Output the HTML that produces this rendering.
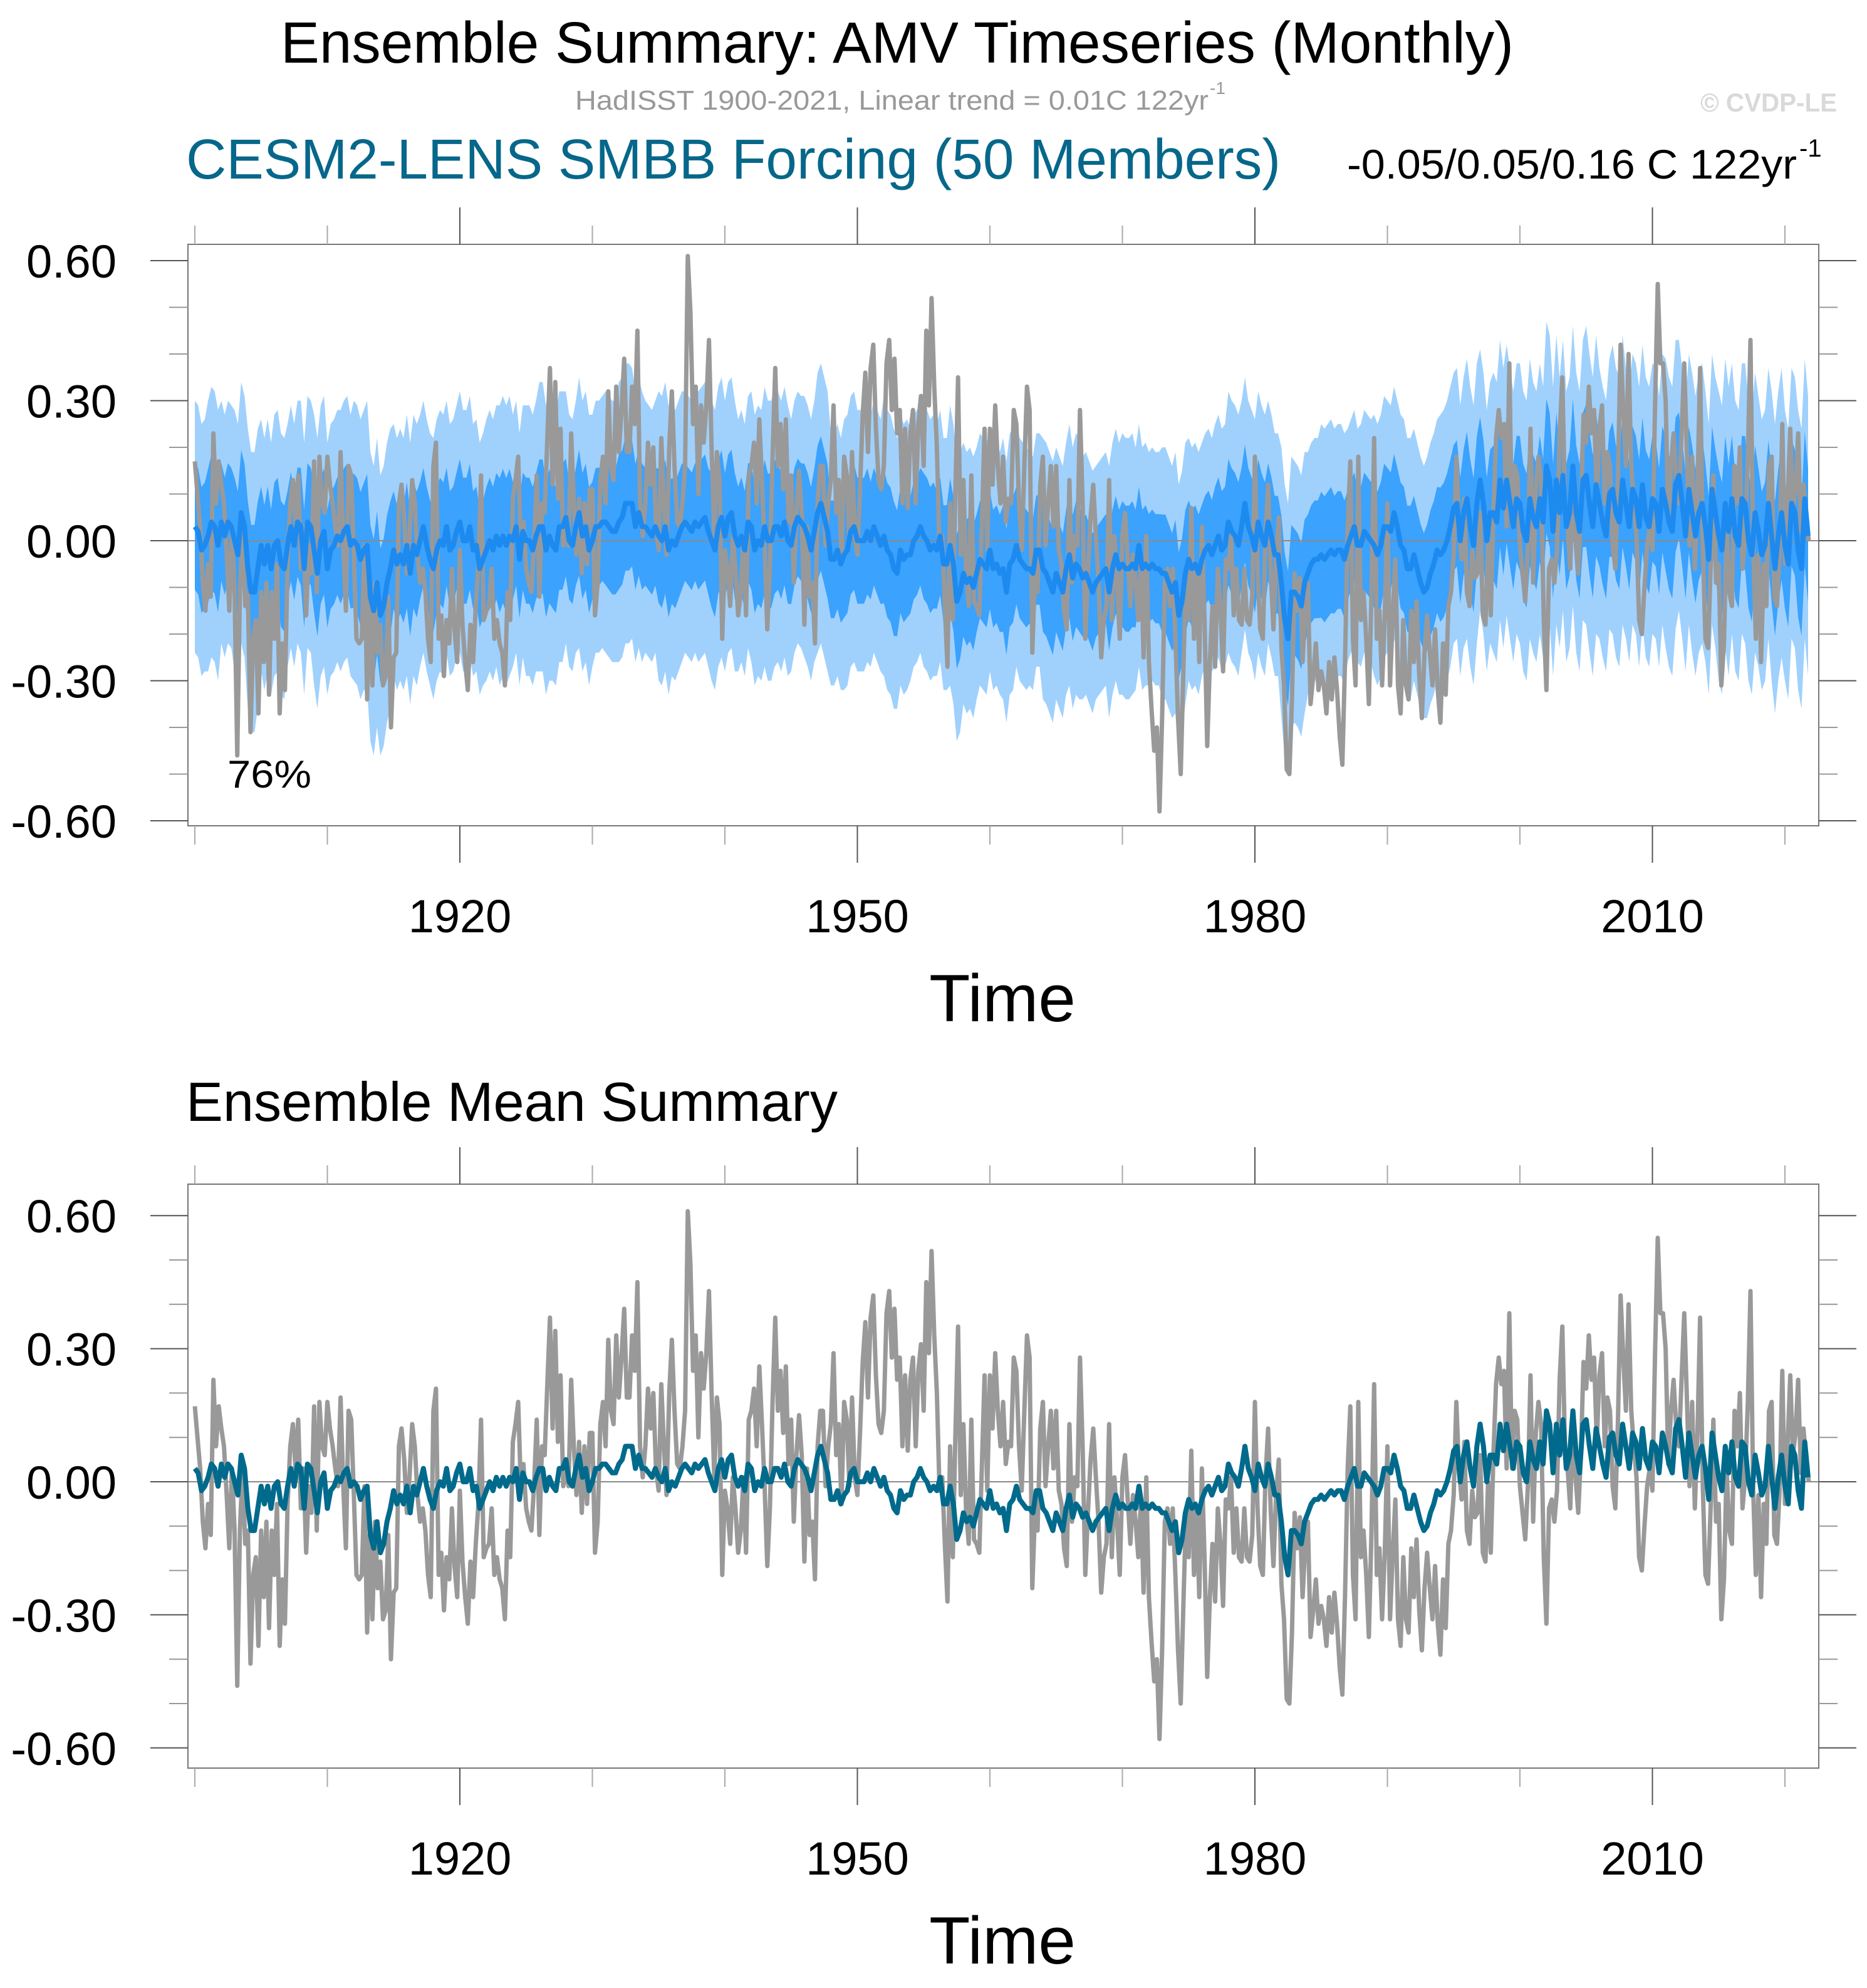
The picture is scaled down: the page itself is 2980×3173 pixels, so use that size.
<!DOCTYPE html>
<html><head><meta charset="utf-8"><style>
html,body{margin:0;padding:0;background:#fff;}
svg{display:block;font-family:"Liberation Sans",sans-serif;}
</style></head>
<body>
<svg id="chart" width="2980" height="3173" viewBox="0 0 2980 3173" xmlns="http://www.w3.org/2000/svg">
<rect width="2980" height="3173" fill="#fff"/>
<text x="448" y="100" font-size="93" textLength="1968" lengthAdjust="spacingAndGlyphs">Ensemble Summary: AMV Timeseries (Monthly)</text>
<text x="918" y="175" font-size="44" fill="#999" textLength="1011" lengthAdjust="spacingAndGlyphs">HadISST 1900-2021, Linear trend = 0.01C 122yr</text>
<text x="1931" y="150" font-size="28" fill="#999">-1</text>
<text x="2714" y="178" font-size="42" font-weight="bold" fill="#d9d9d9" textLength="218" lengthAdjust="spacingAndGlyphs">© CVDP-LE</text>
<text x="297" y="285" font-size="90" fill="#06678a" textLength="1747" lengthAdjust="spacingAndGlyphs">CESM2-LENS SMBB Forcing (50 Members)</text>
<text x="2150" y="285" font-size="66" textLength="718" lengthAdjust="spacingAndGlyphs">-0.05/0.05/0.16 C 122yr</text>
<text x="2872" y="250" font-size="40">-1</text>
<text x="297" y="1789" font-size="88" textLength="1040" lengthAdjust="spacingAndGlyphs">Ensemble Mean Summary</text>
<g id="top"></g>
<g id="bot"></g>
</svg>
<script>
// Observed (HadISST) AMV, 5 samples per year, 1900-2021
const obsValues = [
0.17,0.10,0.03,-0.09,-0.15, -0.05,-0.12,0.23,0.08,0.17, 0.12,0.08,-0.03,-0.15,0.03, -0.11,-0.46,-0.11,0.03,-0.14, -0.11,-0.41,-0.21,-0.17,-0.37,
-0.11,-0.26,-0.09,-0.33,-0.11, -0.21,-0.05,-0.37,-0.22,-0.32, -0.05,0.08,0.13,0.03,0.14, -0.06,0.03,-0.16,-0.01,-0.07, 0.17,-0.11,0.18,0.08,0.06,
0.18,0.12,0.08,0.03,-0.01, 0.19,-0.01,-0.15,0.16,0.14, -0.03,-0.21,-0.22,-0.21,-0.01, -0.34,-0.12,-0.31,-0.09,-0.24, -0.18,-0.31,-0.29,-0.12,-0.40,
-0.25,-0.24,0.08,0.12,0.05, -0.07,0.01,0.13,0.08,-0.03, -0.09,-0.06,-0.11,-0.21,-0.26, 0.16,0.21,-0.21,-0.16,-0.29, -0.17,-0.22,-0.06,-0.19,-0.26,
-0.02,-0.18,-0.26,-0.32,-0.18, -0.26,-0.14,-0.05,0.14,-0.17, -0.15,-0.14,-0.06,-0.21,-0.17, -0.22,-0.24,-0.31,-0.11,-0.17, 0.09,0.13,0.18,-0.01,0.04,
-0.06,-0.09,-0.11,-0.01,0.14, -0.12,0.08,0.06,0.22,0.37, 0.12,0.34,0.09,0.24,-0.01, 0.03,-0.01,0.23,0.08,-0.03, 0.09,-0.07,0.08,-0.05,0.11,
0.11,-0.16,-0.09,0.13,0.18, 0.08,0.32,0.16,0.13,0.33, 0.19,0.28,0.39,0.19,0.19, 0.33,0.25,0.45,0.08,0.01, 0.08,0.21,0.12,0.20,0.03,
-0.02,0.22,0.08,-0.03,0.20, 0.32,0.16,0.04,0.03,0.08, 0.16,0.61,0.49,0.25,0.33, 0.10,0.29,0.21,0.29,0.43, 0.20,0.01,0.19,0.13,-0.21,
-0.02,-0.06,-0.14,0.01,-0.06, -0.16,-0.11,0.01,-0.16,0.14, 0.16,0.21,0.08,0.26,0.13, -0.01,-0.19,-0.06,0.18,0.37, 0.16,0.25,0.11,0.26,0.04,
0.14,-0.09,0.06,0.15,0.06, -0.18,0.03,-0.12,-0.09,-0.22, 0.08,0.16,0.16,-0.01,0.08, 0.13,0.29,0.06,0.13,-0.05, 0.18,0.14,-0.01,0.19,0.01,
-0.03,0.11,0.27,0.36,0.19, 0.37,0.42,0.24,0.13,0.11, 0.16,0.38,0.43,0.28,0.39, 0.23,0.28,0.08,0.24,0.07, 0.23,0.28,0.08,0.25,0.31,
0.16,0.45,0.29,0.52,0.33, 0.20,-0.02,0.01,-0.14,-0.27, 0.08,-0.17,0.11,0.35,-0.03, 0.13,-0.06,-0.14,0.14,-0.13, -0.14,-0.16,0.04,0.24,-0.02,
0.24,0.12,0.29,0.16,0.08, 0.18,0.04,0.09,0.08,0.28, 0.25,0.08,-0.02,0.16,0.33, 0.28,-0.24,-0.07,-0.11,0.12, 0.18,-0.01,0.08,0.16,0.03,
0.16,-0.02,-0.05,-0.15,-0.19, 0.13,-0.09,0.01,-0.01,0.28, 0.08,-0.21,-0.07,0.05,0.12, 0.01,-0.09,-0.25,-0.17,-0.14, 0.13,-0.17,0.01,-0.09,-0.21,
0.01,0.06,-0.04,-0.14,-0.03, -0.09,-0.17,-0.04,-0.25,0.01, -0.26,-0.36,-0.45,-0.40,-0.58, -0.38,-0.09,-0.06,-0.14,-0.06, -0.21,-0.38,-0.50,-0.28,-0.07,
-0.17,0.07,-0.21,-0.06,-0.26, 0.03,-0.17,-0.44,-0.26,-0.14, -0.27,-0.06,-0.14,-0.28,-0.04, -0.06,0.01,-0.16,-0.06,-0.17, -0.18,-0.06,-0.17,-0.18,-0.12,
0.18,-0.06,-0.19,-0.21,0.01, 0.12,-0.07,-0.19,-0.03,0.05, -0.23,-0.31,-0.49,-0.50,-0.34, -0.07,-0.15,-0.08,-0.26,-0.14, -0.09,-0.35,-0.29,-0.22,-0.32,
-0.28,-0.31,-0.37,-0.26,-0.34, -0.25,-0.32,-0.42,-0.48,-0.26, 0.03,0.17,-0.21,-0.31,0.18, -0.17,-0.11,-0.21,-0.35,-0.11, 0.22,-0.21,-0.15,-0.31,-0.16,
0.08,-0.31,-0.16,-0.04,-0.31, -0.37,-0.17,-0.31,-0.34,-0.15, -0.26,-0.13,-0.29,-0.38,-0.24, -0.16,-0.24,-0.31,-0.19,-0.32, -0.39,-0.22,-0.33,-0.14,-0.11,
-0.03,0.18,0.03,-0.04,0.09, -0.11,-0.14,-0.02,-0.08,-0.07, 0.06,-0.16,-0.18,0.00,-0.16, 0.06,0.22,0.28,0.22,0.25, 0.03,0.38,0.03,0.16,0.14,
-0.01,-0.07,-0.13,-0.01,0.24, -0.09,0.11,0.18,0.13,-0.17, -0.32,-0.06,-0.04,-0.09,-0.02, 0.23,0.35,0.08,0.03,-0.06, 0.16,0.01,-0.07,0.06,0.27,
0.21,0.33,0.23,0.28,0.09, 0.24,0.29,0.08,0.19,0.16, -0.01,-0.06,0.14,0.42,0.28, 0.16,0.40,0.16,0.08,0.01, -0.17,-0.20,-0.10,-0.01,0.03,
-0.02,0.29,0.55,0.38,0.38, 0.30,0.04,0.16,0.23,0.12, 0.08,0.23,0.38,0.19,-0.01, 0.18,-0.06,0.11,0.37,-0.01, -0.21,-0.23,-0.05,0.14,-0.09,
-0.05,-0.31,-0.22,0.03,-0.11, -0.14,0.16,0.08,0.20,-0.06, 0.01,0.18,0.43,-0.01,-0.21, -0.03,-0.26,-0.05,-0.14,0.16, 0.18,-0.12,-0.14,-0.02,0.25,
-0.05,0.08,0.24,0.06,0.11, 0.23,0.02,0.12,0.05,0.00
];
// Ensemble mean, 4 samples per year, 1900-2021
const meanValues = [
0.03,0.02,-0.02,-0.01, 0.01,0.04,0.03,-0.01, 0.04,0.01,0.04,0.03, 0.00,-0.03,0.06,0.03, -0.06,-0.11,-0.11,-0.06,
-0.01,-0.05,-0.01,-0.06, -0.01,0.00,-0.05,-0.06, -0.01,0.03,-0.01,0.04, 0.03,-0.06,0.04,0.03, -0.02,-0.07,0.00,0.02,
-0.06,-0.02,-0.01,0.01, 0.00,0.02,0.03,-0.01, 0.00,-0.01,-0.04,-0.02, -0.01,-0.12,-0.15,-0.09, -0.16,-0.14,-0.09,-0.06,
-0.02,-0.05,-0.03,-0.05, -0.01,-0.07,-0.01,-0.03, 0.00,0.03,-0.01,-0.04, -0.06,-0.02,0.00,-0.01, 0.03,-0.02,-0.01,0.02,
0.04,0.00,0.00,0.03, -0.02,-0.01,-0.06,-0.04, -0.02,0.00,-0.02,0.01, -0.01,0.01,-0.01,0.01, 0.00,0.03,-0.04,0.02,
0.00,0.00,-0.02,0.01, 0.03,0.03,-0.02,0.01, -0.01,-0.02,0.03,0.03, 0.05,0.00,-0.01,0.03, 0.06,0.01,0.03,-0.02,
0.00,0.03,0.03,0.04, 0.04,0.03,0.02,0.02, 0.04,0.05,0.08,0.08, 0.08,0.03,0.06,0.03, 0.03,0.02,0.01,0.03,
0.01,0.00,0.03,-0.02, 0.00,-0.01,0.01,0.03, 0.04,0.03,0.02,0.04, 0.03,0.04,0.05,0.02, 0.00,-0.02,0.03,0.05,
0.01,0.05,0.06,0.01, -0.01,0.01,-0.02,0.04, 0.03,-0.02,0.00,-0.01, 0.03,0.00,0.00,0.03, 0.03,0.01,0.04,0.00,
-0.01,0.03,0.05,0.04, 0.03,0.01,-0.02,0.02, 0.06,0.08,0.05,0.02, -0.04,-0.04,-0.02,-0.05, -0.03,-0.02,0.02,0.03,
0.00,0.00,0.00,0.02, 0.00,0.03,0.01,-0.01, 0.01,-0.02,-0.03,-0.06, -0.07,-0.02,-0.04,-0.03, -0.03,0.00,0.01,0.03,
0.01,0.00,-0.02,-0.01, -0.02,0.01,-0.05,-0.05, -0.01,-0.05,-0.13,-0.11, -0.07,-0.09,-0.08,-0.10, -0.07,-0.04,-0.05,-0.06,
-0.02,-0.06,-0.05,-0.07, -0.06,-0.11,-0.05,-0.04, -0.01,-0.04,-0.05,-0.06, -0.06,-0.07,-0.02,-0.02, -0.06,-0.07,-0.09,-0.11,
-0.07,-0.09,-0.11,-0.06, -0.03,-0.08,-0.05,-0.06, -0.08,-0.07,-0.09,-0.11, -0.09,-0.08,-0.07,-0.06, -0.11,-0.06,-0.03,-0.06,
-0.05,-0.06,-0.06,-0.05, -0.06,-0.01,-0.06,-0.05, -0.06,-0.05,-0.06,-0.06, -0.07,-0.07,-0.09,-0.11, -0.09,-0.16,-0.13,-0.07,
-0.04,-0.06,-0.05,-0.07, -0.04,-0.02,-0.01,-0.03, -0.01,0.01,-0.02,-0.01, 0.04,0.02,0.01,-0.01, 0.03,0.08,0.03,0.01,
-0.02,0.04,0.01,-0.01, 0.04,0.01,-0.03,-0.03, -0.09,-0.17,-0.21,-0.11, -0.11,-0.12,-0.14,-0.09, -0.07,-0.05,-0.04,-0.04,
-0.03,-0.04,-0.03,-0.02, -0.03,-0.02,-0.02,-0.04, -0.01,0.01,0.03,-0.01, -0.01,0.02,0.01,0.00, -0.01,-0.03,-0.01,0.03,
0.03,0.02,0.06,0.03, -0.01,-0.02,-0.06,-0.06, -0.03,-0.06,-0.09,-0.11, -0.10,-0.07,-0.05,-0.02, -0.03,-0.02,0.00,0.03,
0.07,0.08,0.00,0.06, 0.09,0.03,-0.01,0.08, 0.13,0.08,0.00,0.06, 0.06,0.04,0.13,0.07, 0.13,0.08,0.03,0.09,
0.08,0.02,0.00,0.09, 0.05,0.03,0.09,0.04, 0.16,0.13,0.02,0.13, 0.06,0.14,0.03,0.06, 0.16,0.06,0.02,0.13,
0.14,0.08,0.03,0.12, 0.08,0.04,0.01,0.10, 0.11,0.06,0.04,0.13, 0.08,0.03,0.11,0.09, 0.03,0.12,0.05,0.03,
0.09,0.08,0.02,0.11, 0.08,0.04,0.02,0.12, 0.14,0.08,0.01,0.11, 0.06,0.01,0.06,0.08, 0.03,-0.04,0.11,0.06,
0.01,-0.02,0.08,0.02, 0.09,0.01,-0.01,0.09, 0.08,0.00,-0.03,0.06, 0.02,-0.03,-0.01,0.08, 0.01,-0.06,0.01,0.06,
-0.01,-0.05,0.08,0.06, -0.02,-0.06,0.09,0.01
];
// Per-year half-widths of the ensemble spread bands
const innerSpread = [
0.15,0.16,0.14,0.15,0.16,0.14,0.15,0.13,0.14,0.15,
0.14,0.15,0.16,0.17,0.16,0.14,0.15,0.14,0.15,0.14,
0.15,0.14,0.15,0.16,0.14,0.15,0.16,0.15,0.14,0.15,
0.14,0.15,0.16,0.15,0.14,0.16,0.15,0.14,0.15,0.16,
0.15,0.14,0.15,0.16,0.15,0.14,0.15,0.16,0.14,0.15,
0.15,0.14,0.16,0.15,0.14,0.15,0.14,0.16,0.15,0.14,
0.14,0.15,0.14,0.13,0.15,0.14,0.15,0.14,0.13,0.14,
0.15,0.14,0.13,0.14,0.15,0.14,0.13,0.14,0.15,0.14,
0.15,0.14,0.16,0.15,0.14,0.15,0.14,0.13,0.14,0.15,
0.14,0.15,0.14,0.15,0.16,0.15,0.16,0.15,0.16,0.15,
0.16,0.15,0.16,0.15,0.16,0.17,0.15,0.16,0.15,0.16,
0.15,0.16,0.15,0.16,0.15,0.16,0.15,0.16,0.15,0.16,
0.15,0.16
];
const outerSpread = [
0.27,0.29,0.26,0.28,0.30,0.27,0.28,0.26,0.27,0.29,
0.27,0.28,0.30,0.31,0.30,0.27,0.28,0.27,0.28,0.27,
0.28,0.27,0.28,0.30,0.27,0.29,0.31,0.29,0.27,0.29,
0.27,0.28,0.30,0.29,0.27,0.31,0.29,0.28,0.29,0.30,
0.29,0.27,0.29,0.30,0.29,0.27,0.28,0.30,0.27,0.29,
0.28,0.27,0.30,0.29,0.27,0.28,0.27,0.30,0.28,0.27,
0.26,0.28,0.26,0.25,0.28,0.27,0.28,0.26,0.25,0.27,
0.28,0.26,0.25,0.27,0.28,0.26,0.25,0.26,0.28,0.27,
0.28,0.26,0.29,0.28,0.26,0.28,0.27,0.25,0.26,0.28,
0.27,0.28,0.27,0.28,0.30,0.29,0.30,0.28,0.30,0.29,
0.30,0.29,0.31,0.29,0.30,0.32,0.29,0.31,0.29,0.30,
0.29,0.31,0.29,0.30,0.29,0.31,0.29,0.30,0.29,0.31,
0.29,0.30
];
const yTickValues = [-0.6,-0.3,0,0.3,0.6];
const yTickLabels = ["-0.60","-0.30","0.00","0.30","0.60"];
const yMinorValues = [-0.5,-0.4,-0.2,-0.1,0.1,0.2,0.4,0.5];
const xTickYears = [1900,1910,1920,1930,1940,1950,1960,1970,1980,1990,2000,2010,2020];
const xMajorYears = [1920,1950,1980,2010];
const startYear = 1900;
const obsPerYear = 5;
const meanPerYear = 4;

const NS = "http://www.w3.org/2000/svg";
const X0 = 311, XS = 21.15, FL = 300, FR = 2903;
function xOf(t){ return X0 + (t - startYear) * XS; }
function mk(tag, attrs, parent){
  const e = document.createElementNS(NS, tag);
  for (const k in attrs) e.setAttribute(k, attrs[k]);
  parent.appendChild(e); return e;
}
function linePath(vals, perYear, yOf){
  let d = "";
  vals.forEach((v,i)=>{ d += (i?"L":"M") + xOf(startYear + i/perYear).toFixed(1) + "," + yOf(v).toFixed(1); });
  return d;
}
function bandPath(spread, yOf){
  const up = [], lo = [];
  meanValues.forEach((m,i)=>{
    const t = startYear + i/meanPerYear;
    const s = spread[Math.min(spread.length-1, Math.floor(i/meanPerYear))];
    up.push([xOf(t), yOf(m + s)]);
    lo.push([xOf(t), yOf(m - s)]);
  });
  let d = "M" + up.map(p=>p[0].toFixed(1)+","+p[1].toFixed(1)).join("L");
  d += "L" + lo.reverse().map(p=>p[0].toFixed(1)+","+p[1].toFixed(1)).join("L") + "Z";
  return d;
}

function panel(g, top, bot, y0, scale, isTop){
  const yOf = v => y0 - v * scale;
  const clipId = isTop ? "clipTop" : "clipBot";
  const defs = mk("defs", {}, g);
  const cp = mk("clipPath", {id: clipId}, defs);
  mk("rect", {x: FL, y: top, width: FR-FL, height: bot-top}, cp);
  const plot = mk("g", {"clip-path": "url(#"+clipId+")"}, g);
  if (isTop){
    const ob = mk("path", {d: bandPath(outerSpread, yOf), fill: "#a0d1fd"}, plot);
    
    
    const ib = mk("path", {d: bandPath(innerSpread.map(v=>v*0.9), yOf), fill: "#3ba2fd"}, plot);
    
    
  }
  const zl = mk("line", {x1: FL, x2: FR, y1: yOf(0), y2: yOf(0), stroke: "#8a8a8a", "stroke-width": 2}, plot);
  
  
  const ol = mk("path", {d: linePath(obsValues, obsPerYear, yOf), fill: "none", stroke: "#999", "stroke-width": 7, "stroke-linejoin": "round"}, plot);
  
  
  const ml = mk("path", {d: linePath(meanValues, meanPerYear, yOf), fill: "none", stroke: isTop ? "#1d8af0" : "#006a8c", "stroke-width": 8, "stroke-linejoin": "round"}, plot);
  
  
  const fr = mk("rect", {x: FL, y: top, width: FR-FL, height: bot-top, fill: "none", stroke: "#777", "stroke-width": 2}, g);
  
  
  yTickValues.forEach((v,i)=>{
    const y = yOf(v);
    const a = mk("line", {x1: 240, x2: FL, y1: y, y2: y, stroke: "#555", "stroke-width": 2}, g);
    
    
    const b = mk("line", {x1: FR, x2: 2963, y1: y, y2: y, stroke: "#555", "stroke-width": 2}, g);
    
    
    const t = mk("text", {x: 186, y: y + 27, "font-size": 74, "text-anchor": "end"}, g);
    t.textContent = yTickLabels[i];
    
    
  });
  yMinorValues.forEach(v=>{
    const y = yOf(v);
    const a = mk("line", {x1: 270, x2: FL, y1: y, y2: y, stroke: "#999", "stroke-width": 2}, g);
    
    
    const b = mk("line", {x1: FR, x2: 2933, y1: y, y2: y, stroke: "#999", "stroke-width": 2}, g);
    
    
  });
  xTickYears.forEach(yr=>{
    const x = xOf(yr);
    const major = xMajorYears.includes(yr);
    const len = major ? 59 : 30;
    const col = major ? "#555" : "#aaa";
    const a = mk("line", {x1: x, x2: x, y1: top - len, y2: top, stroke: col, "stroke-width": 2}, g);
    
    
    const b = mk("line", {x1: x, x2: x, y1: bot, y2: bot + len, stroke: col, "stroke-width": 2}, g);
    
    
    if (major){
      const t = mk("text", {x: x, y: bot + 170, "font-size": 74, "text-anchor": "middle"}, g);
      t.textContent = String(yr);
      
      
    }
  });
  const xt = mk("text", {x: 1600, y: bot + 312, "font-size": 107, "text-anchor": "middle"}, g);
  xt.textContent = "Time";
  
  
}

panel(document.getElementById("top"), 390, 1318, 863, 745, true);
panel(document.getElementById("bot"), 1890, 2822, 2365, 708, false);

const pct = mk("text", {x: 363, y: 1257, "font-size": 62, textLength: 134, lengthAdjust: "spacingAndGlyphs"}, document.getElementById("top"));
pct.textContent = "76%";


</script>
</body></html>
